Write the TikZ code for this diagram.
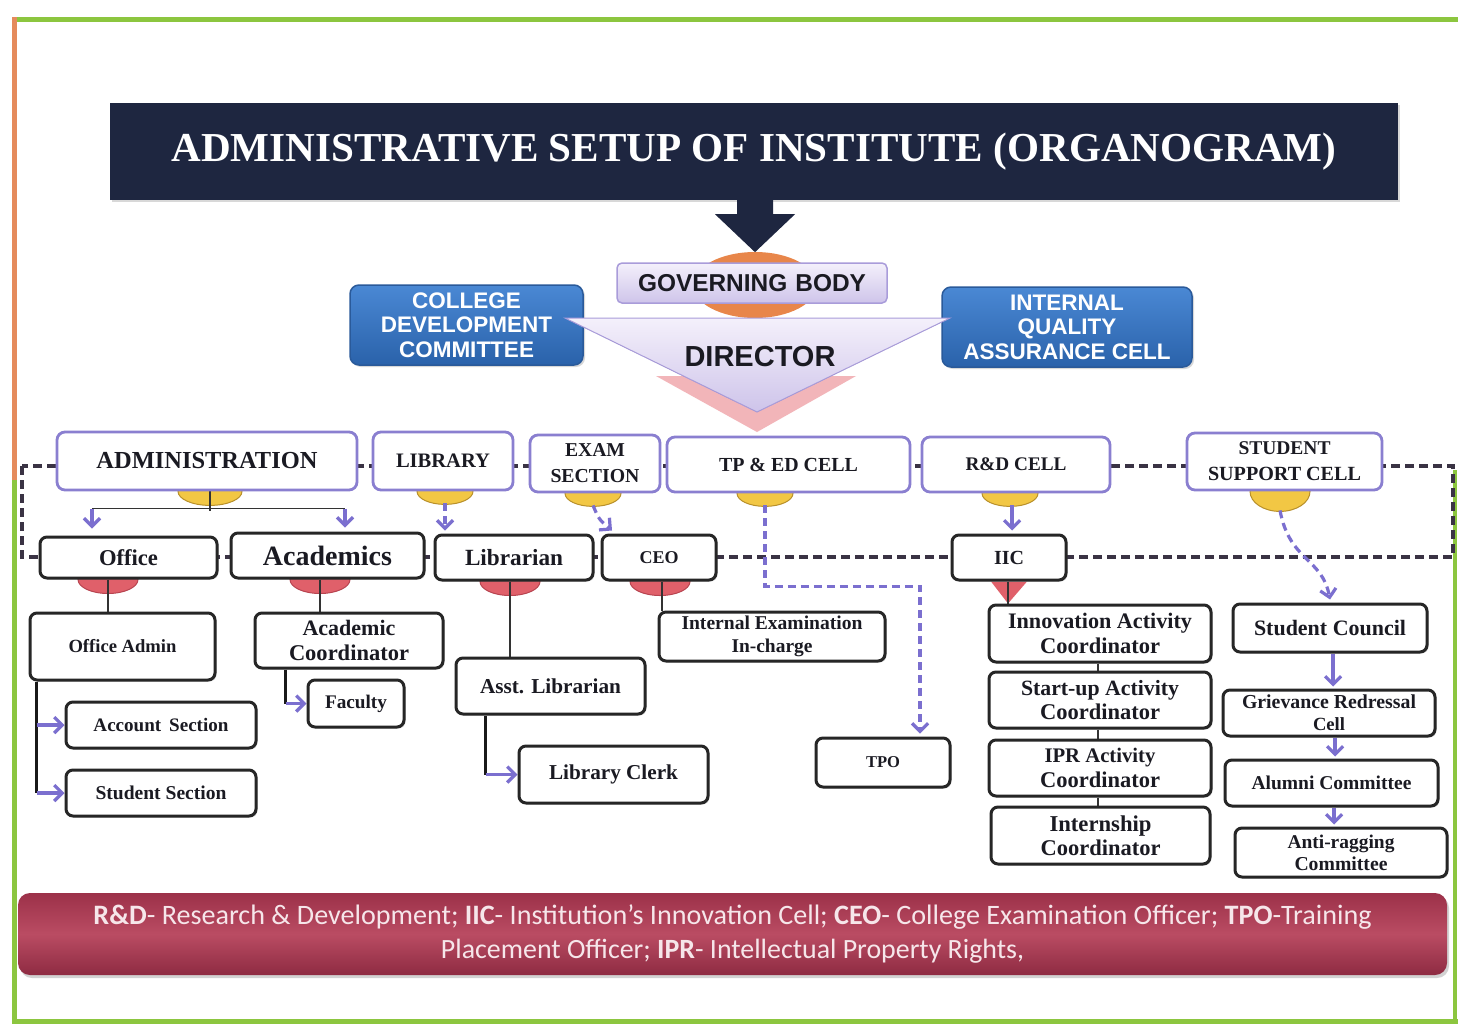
\documentclass[tikz,border=0pt]{standalone}
\usepackage{fontspec}
\usepackage{graphicx}
\setmainfont{Liberation Serif}
\setsansfont{Liberation Sans}
\newfontfamily\carl{Carlito}
\usetikzlibrary{arrows.meta,calc,shadows}
\newcommand{\fw}[2]{\resizebox{#1pt}{!}{#2}}
\definecolor{navy}{HTML}{1E2640}
\definecolor{orangeE}{HTML}{E8864A}
\definecolor{topb}{HTML}{8A7FD0}
\definecolor{textc}{HTML}{1A1A22}
\definecolor{purp}{HTML}{7B6FCF}
\definecolor{dkc}{HTML}{3A3344}
\definecolor{yel}{HTML}{F2C744}
\definecolor{yelD}{HTML}{B8902A}
\definecolor{redc}{HTML}{E0606A}
\definecolor{redD}{HTML}{B84450}
\definecolor{blueT}{HTML}{4A88D4}
\definecolor{blueB}{HTML}{2A62AA}
\definecolor{blueb}{HTML}{2A5A9A}
\definecolor{lavT}{HTML}{F4F0FB}
\definecolor{lavB}{HTML}{CEC4EA}
\definecolor{lavD}{HTML}{A99CDA}
\definecolor{pinkc}{HTML}{F2B5B9}
\definecolor{footT}{HTML}{9C3149}
\definecolor{footM}{HTML}{BA4C63}
\definecolor{footB}{HTML}{8E2B42}
\definecolor{foottext}{HTML}{F6E6EA}
\definecolor{greenb}{HTML}{8CC63F}
\definecolor{orangeb}{HTML}{E58B5C}
\pgfdeclarelayer{back}
\pgfdeclarelayer{bg}
\pgfsetlayers{back,bg,main}
\begin{document}
\begin{tikzpicture}[x=1pt,y=-1pt,
  topbox/.style={draw=topb, line width=2.8, rounded corners=8, fill=white, inner sep=0, align=center, text=textc, font=\bfseries\fontsize{20}{26}\selectfont},
  bkbox/.style={draw=black!85, line width=3, rounded corners=7, fill=white, inner sep=0, align=center, text=textc, font=\bfseries\fontsize{18}{24.5}\selectfont, drop shadow={shadow xshift=1.5pt, shadow yshift=-1.5pt, opacity=0.3}},
  bluebox/.style={draw=blueb, line width=1.5, rounded corners=9, top color=blueT, bottom color=blueB, inner sep=0, align=center, text=white, font=\sffamily\bfseries\fontsize{22.5}{24.5}\selectfont, drop shadow={shadow xshift=2pt, shadow yshift=-2pt, opacity=0.3}},
  thinl/.style={draw=black!80, line width=1.4},
  thickl/.style={draw=black!90, line width=2.8},
  parr/.style={draw=purp, line width=3.2, -{Straight Barb[length=8pt,width=16pt,line width=3.2pt]}},
  pdash/.style={parr, dash pattern=on 8pt off 5pt},
  dkdash/.style={draw=dkc, line width=3.5, dash pattern=on 9pt off 5pt},
  ysemi/.style={fill=yel, draw=yelD, line width=1},
  rsemi/.style={fill=redc, draw=redD, line width=1}]
\useasboundingbox (0,0) rectangle (1458,1026);
\begin{pgfonlayer}{back}
\fill[white] (0,0) rectangle (1458,1026);
\draw[greenb, line width=5] (12,19) -- (1458,19);
\draw[orangeb, line width=5] (14,17) -- (14,480);
\draw[greenb, line width=5] (14,480) -- (14,1021) -- (1458,1021);
\draw[greenb, line width=4] (1455,470) -- (1455,1021);
\end{pgfonlayer}

% ---------- title ----------
\node[fill=navy, minimum width=1288, minimum height=97, inner sep=0, text=white, drop shadow={shadow xshift=2pt, shadow yshift=-2pt, opacity=0.3}] (title) at (754,151.5) {\fw{1165}{\bfseries ADMINISTRATIVE SETUP OF INSTITUTE (ORGANOGRAM)}};
\fill[navy] ($(title.south)+(-17,0)$) -- ($(title.south)+(19,0)$) -- ($(title.south)+(19,14)$) -- ($(title.south)+(41,14)$) -- ($(title.south)+(1,52)$) -- ($(title.south)+(-39,14)$) -- ($(title.south)+(-17,14)$) -- cycle;

% ---------- governing body / director ----------
\fill[orangeE] (755,285) ellipse [x radius=62, y radius=33];
\node[draw=lavD, line width=1.5, rounded corners=5, top color=lavT, bottom color=lavB, minimum width=270, minimum height=40, inner sep=0, text=textc, font=\sffamily\bfseries\fontsize{24}{26}\selectfont] (gov) at (752,283) {\fw{228}{GOVERNING\,\,BODY}};

\node[bluebox, minimum width=233, minimum height=80] (cdc) at (466.5,325) {COLLEGE\\DEVELOPMENT\\COMMITTEE};
\node[bluebox, minimum width=250, minimum height=80] (iqac) at (1067,327) {INTERNAL\\QUALITY\\ASSURANCE CELL};

\fill[pinkc] (656,376) -- (856,376) -- (757,432) -- cycle;
\filldraw[draw=lavD, line width=1, top color=lavT, bottom color=lavB] (565,318) -- (950,318) -- (757,412) -- cycle;
\node[text=textc, font=\sffamily\bfseries\fontsize{29}{30}\selectfont, inner sep=0] (dir) at (760,357) {DIRECTOR};

% ---------- top row ----------
\node[topbox, minimum width=300, minimum height=58] (admin) at (207,461) {\fw{221}{ADMINISTRATION}};
\node[topbox, minimum width=140, minimum height=58] (library) at (443,461) {\fw{94}{LIBRARY}};
\node[topbox, minimum width=130, minimum height=57] (exam) at (595,463.5) {\fw{60}{EXAM}\\\fw{89}{SECTION}};
\node[topbox, minimum width=243, minimum height=55] (tped) at (788.5,464.5) {\fw{139}{TP \& ED CELL}};
\node[topbox, minimum width=188, minimum height=55] (rnd) at (1016,464.5) {\fw{101}{R\&D CELL}};
\node[topbox, minimum width=195, minimum height=57] (ssc) at (1284.5,461.5) {\fw{92}{STUDENT}\\\fw{153}{SUPPORT CELL}};

% ---------- second row ----------
\node[bkbox, minimum width=177, minimum height=41] (office) at (128.5,557.5) {\fw{59}{Office}};
\node[bkbox, minimum width=193, minimum height=45] (acad) at (327.5,555.5) {\fw{129}{Academics}};
\node[bkbox, minimum width=158, minimum height=45] (libn) at (514,557.5) {\fw{98}{Librarian}};
\node[bkbox, minimum width=114, minimum height=45] (ceo) at (659,557.5) {\fw{39}{CEO}};
\node[bkbox, minimum width=114, minimum height=45] (iic) at (1009,557.5) {\fw{30}{IIC}};

% ---------- lower boxes ----------
\node[bkbox, minimum width=185, minimum height=67] (oadmin) at (122.5,646.5) {\fw{108}{Office Admin}};
\node[bkbox, minimum width=188, minimum height=55] (acoord) at (349,640.5) {\fw{93}{Academic}\\\fw{120}{Coordinator}};
\node[bkbox, minimum width=96, minimum height=47] (faculty) at (356,703.5) {\fw{62}{Faculty}};
\node[bkbox, minimum width=226, minimum height=49, font=\bfseries\fontsize{18}{23}\selectfont] (iexam) at (772,636.5) {\fw{181}{Internal Examination}\\\fw{81}{In-charge}};
\node[bkbox, minimum width=189, minimum height=56] (alib) at (550.5,686) {\fw{141}{Asst. Librarian}};
\node[bkbox, minimum width=189, minimum height=57] (lclerk) at (613.5,774.5) {\fw{129}{Library Clerk}};
\node[bkbox, minimum width=190, minimum height=46] (acct) at (161,725) {\fw{135}{Account\, Section}};
\node[bkbox, minimum width=190, minimum height=46] (ssec) at (161,793) {\fw{131}{Student Section}};
\node[bkbox, minimum width=134, minimum height=49] (tpo) at (883,762.5) {\fw{34}{TPO}};
\node[bkbox, minimum width=222, minimum height=57] (inn) at (1100,633.5) {\fw{184}{Innovation Activity}\\\fw{120}{Coordinator}};
\node[bkbox, minimum width=222, minimum height=56] (start) at (1100,700) {\fw{158}{Start-up Activity}\\\fw{120}{Coordinator}};
\node[bkbox, minimum width=222, minimum height=56] (ipr) at (1100,768) {\fw{111}{IPR Activity}\\\fw{120}{Coordinator}};
\node[bkbox, minimum width=219, minimum height=57] (intern) at (1100.5,835.5) {\fw{102}{Internship}\\\fw{120}{Coordinator}};
\node[bkbox, minimum width=194, minimum height=48] (scouncil) at (1330,628) {\fw{152}{Student Council}};
\node[bkbox, minimum width=212, minimum height=46, font=\bfseries\fontsize{18}{22}\selectfont] (grc) at (1329,713) {\fw{174}{Grievance Redressal}\\\fw{32}{Cell}};
\node[bkbox, minimum width=213, minimum height=46] (alumni) at (1331.5,783) {\fw{160}{Alumni Committee}};
\node[bkbox, minimum width=212, minimum height=49, font=\bfseries\fontsize{18}{22}\selectfont] (antirag) at (1341,852.5) {\fw{107}{Anti-ragging}\\\fw{93}{Committee}};

% ---------- footer ----------
\node[rounded corners=12, top color=footT, bottom color=footB, middle color=footM, minimum width=1429, minimum height=82, inner sep=0, align=center, text=foottext, font=\carl\fontsize{25}{34}\selectfont, drop shadow={shadow xshift=2pt, shadow yshift=-3pt, opacity=0.35}] (foot) at (732.5,934) {\fw{1278}{\textbf{R\&D}- Research \& Development; \textbf{IIC}- Institution’s Innovation Cell; \textbf{CEO}- College Examination Officer; \textbf{TPO}-Training}\\\fw{583}{Placement Officer; \textbf{IPR}- Intellectual Property Rights,}};

% ---------- background connectors ----------
\begin{pgfonlayer}{bg}
\coordinate (dkA) at (22,466);
\coordinate (dkB) at (1453,557);
\draw[dkdash] (dkA) rectangle (dkB);
% yellow half discs
\draw[ysemi] ($(admin.south)+(3,0)$) ellipse [x radius=32, y radius=14];
\draw[ysemi] ($(library.south)+(2,0)$) ellipse [x radius=28, y radius=13];
\draw[ysemi] ($(exam.south)+(-2,0)$) ellipse [x radius=28, y radius=13];
\draw[ysemi] ($(tped.south)+(-23.5,0)$) ellipse [x radius=28, y radius=13];
\draw[ysemi] ($(rnd.south)+(-6,0)$) ellipse [x radius=28, y radius=13];
\draw[ysemi] ($(ssc.south)+(-4.5,0)$) ellipse [x radius=30, y radius=20];
% red half discs
\draw[rsemi] ($(office.south)+(-20.5,0)$) ellipse [x radius=30, y radius=14];
\draw[rsemi] ($(acad.south)+(-7.5,0)$) ellipse [x radius=30, y radius=14];
\draw[rsemi] ($(libn.south)+(-4,0)$) ellipse [x radius=30, y radius=14];
\draw[rsemi] ($(ceo.south)+(1,0)$) ellipse [x radius=30, y radius=14];
\fill[redc] ($(iic.south)+(-18,0)$) -- ($(iic.south)+(18,0)$) -- ($(iic.south)+(-1,22)$) -- cycle;
% top row to second row
\draw[thinl] ($(admin.south)+(3,0)$) -- ($(admin.south)+(3,20)$);
\draw[thinl] ($(office.north)+(-36.5,-27)$) -- ($(acad.north)+(17.5,-23)$);
\draw[parr] ($(office.north)+(-36.5,-27)$) -- ($(office.north)+(-36.5,-7)$);
\draw[parr] ($(acad.north)+(17.5,-23)$) -- ($(acad.north)+(17.5,-4)$);
\draw[pdash] ($(library.south)+(2,12)$) -- ($(libn.north)+(-69,-3)$);
\draw[pdash] ($(exam.south)+(-2,12)$) .. controls ($(exam.south)+(4,26)$) .. ($(ceo.north)+(-47,-3)$);
\draw[pdash] ($(tped.south)+(-23.5,12)$) |- ($(tpo.north)+(37,-150)$) -- ($(tpo.north)+(37,-3)$);
\draw[parr] ($(rnd.south)+(-4,12)$) -- ($(iic.north)+(3,-3)$);
\draw[pdash] ($(ssc.south)+(-4.5,19)$) .. controls ($(ssc.south)+(5,70)$) and ($(scouncil.north)+(-8,-45)$) .. ($(scouncil.north)+(0,-3)$);
% second row to lower boxes
\draw[thinl] ($(office.south)+(-20.5,0)$) -- ($(oadmin.north)+(-14.5,0)$);
\draw[thinl] ($(acad.south)+(-7.5,0)$) -- ($(acoord.north)+(-29,0)$);
\draw[thinl] ($(libn.south)+(-4,0)$) -- ($(alib.north)+(-40.5,0)$);
\draw[thinl] ($(ceo.south)+(3,0)$) -- ($(iexam.north)+(-110,0)$);
\draw[thinl] ($(iic.south)+(-1,0)$) -- ($(inn.north)+(-92,0)$);
% office admin branch
\draw[thickl] ($(oadmin.south west)+(8,0)$) -- ($(ssec.west)+(-28,0)$);
\draw[parr] ($(acct.west)+(-28,0)$) -- (acct.west);
\draw[parr] ($(ssec.west)+(-28,0)$) -- (ssec.west);
% academic coordinator branch
\draw[thickl] ($(acoord.south west)+(32,0)$) -- ($(faculty.west)+(-21,0)$);
\draw[parr] ($(faculty.west)+(-21,0)$) -- (faculty.west);
% asst librarian branch
\draw[thickl] ($(alib.south west)+(31,0)$) -- ($(lclerk.west)+(-32,0)$);
\draw[parr] ($(lclerk.west)+(-32,0)$) -- (lclerk.west);
% IIC column
\draw[thinl] ($(inn.south)+(-2,0)$) -- ($(start.north)+(-2,0)$);
\draw[thinl] ($(start.south)+(-2,0)$) -- ($(ipr.north)+(-2,0)$);
\draw[thinl] ($(ipr.south)+(-2,0)$) -- ($(intern.north)+(-2.5,0)$);
% student column
\draw[parr] ($(scouncil.south)+(3,0)$) -- ($(grc.north)+(4,-2)$);
\draw[parr] ($(grc.south)+(6,0)$) -- ($(alumni.north)+(3.5,-2)$);
\draw[parr] ($(alumni.south)+(2.5,0)$) -- ($(antirag.north)+(-7,-2)$);
\end{pgfonlayer}
\end{tikzpicture}
\end{document}
